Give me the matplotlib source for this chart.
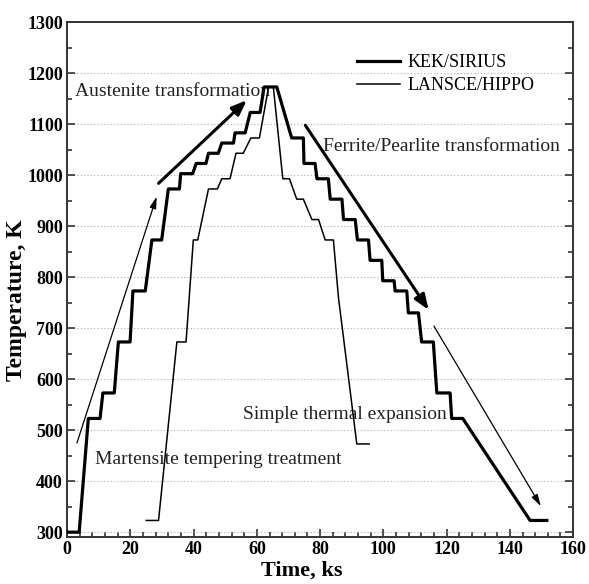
import matplotlib
matplotlib.use("Agg")
import matplotlib.pyplot as plt
from matplotlib.ticker import MultipleLocator

plt.rcParams["font.family"] = ["Liberation Serif", "DejaVu Serif"]

# KEK/SIRIUS heating/cooling schedule (time in ks, temperature in K)
kek_time = [0, 3.8, 6.7, 10.4, 11.3, 14.9, 16.2, 19.9, 20.8, 24.7, 26.8, 29.9,
            32.0, 35.5, 35.9, 39.7, 40.8, 43.9, 44.7, 47.8, 48.9, 52.6, 53.1, 56.3,
            57.9, 61.0, 62.3, 66.3, 71.0, 74.7, 74.9, 78.4, 79.0, 82.6, 83.2, 86.9,
            87.4, 91.1, 91.8, 95.3, 95.8, 99.5, 99.8, 103.4, 103.7, 107.4, 107.9,
            111.1, 112.1, 115.8, 116.9, 121.1, 121.6, 125.1, 146.4, 151.7]
kek_temp = [300, 300, 523, 523, 573, 573, 673, 673, 773, 773, 873, 873,
            973, 973, 1003, 1003, 1023, 1023, 1043, 1043, 1063, 1063, 1083, 1083,
            1123, 1123, 1173, 1173, 1073, 1073, 1023, 1023, 993, 993, 953, 953,
            913, 913, 873, 873, 833, 833, 793, 793, 773, 773, 730,
            730, 673, 673, 573, 573, 523, 523, 323, 323]

# LANSCE/HIPPO schedule
hippo_time = [25.0, 28.9, 34.7, 37.6, 39.9, 41.3, 44.7, 47.5, 48.9, 51.5, 53.4, 55.7,
              58.1, 60.8, 63.7, 65.2, 68.2, 70.3, 72.6, 74.7, 77.4, 79.5, 81.6, 84.2,
              85.8, 91.6, 95.5]
hippo_temp = [323, 323, 673, 673, 873, 873, 973, 973, 993, 993, 1043, 1043,
              1073, 1073, 1173, 1173, 993, 993, 953, 953, 913, 913, 873, 873,
              760, 473, 473]

# arrows: (start, end, thick?)
arrows = [((3.1, 475), (28.3, 958), False),
          ((28.9, 984), (56.8, 1147), True),
          ((75.3, 1098), (114.3, 736), True),
          ((116.0, 704), (149.8, 351), False)]

fig = plt.figure(figsize=(5.89, 5.84), dpi=100)
ax = fig.add_axes([0.114, 0.080, 0.859, 0.882])

ax.plot(kek_time, kek_temp, color="black", lw=2.3, label="KEK/SIRIUS", zorder=3)
ax.plot(hippo_time, hippo_temp, color="black", lw=1.1, label="LANSCE/HIPPO", zorder=3)

for (x0, y0), (x1, y1), thick in arrows:
    if thick:
        props = dict(arrowstyle="-|>,head_length=0.9,head_width=0.35", lw=2.2, color="black",
                     shrinkA=0, shrinkB=0)
    else:
        props = dict(arrowstyle="-|>,head_length=0.7,head_width=0.2", lw=0.9, color="black",
                     shrinkA=0, shrinkB=0)
    ax.annotate("", xy=(x1, y1), xytext=(x0, y0), arrowprops=props, zorder=4)

tkw = dict(fontsize=14, color="#222222", zorder=2)
ax.text(2.5, 1164, "Austenite transformation", ha="left", va="center", **tkw)
ax.text(81.0, 1056, "Ferrite/Pearlite transformation", ha="left", va="center", **tkw)
ax.text(120.1, 531, "Simple thermal expansion", ha="right", va="center", **tkw)
ax.text(8.9, 443, "Martensite tempering treatment", ha="left", va="center", **tkw)

ax.set_xlim(0, 160)
ax.set_ylim(290, 1300)
ax.xaxis.set_major_locator(MultipleLocator(20))
ax.xaxis.set_minor_locator(MultipleLocator(4))
ax.yaxis.set_major_locator(MultipleLocator(100))
ax.yaxis.set_minor_locator(MultipleLocator(50))
ax.tick_params(which="both", direction="in", top=False, right=True, width=1.2, color="#333333")
ax.tick_params(which="major", length=6, labelsize=13, pad=3)
ax.tick_params(which="minor", length=3.5)
for lab in ax.get_xticklabels() + ax.get_yticklabels():
    lab.set_fontweight("bold")
ax.yaxis.grid(True, which="major", linestyle=(0, (1, 2)), color="#aaaaaa", lw=0.8)
ax.set_axisbelow(True)
for s in ax.spines.values():
    s.set_linewidth(1.4)
    s.set_color("#333333")

ax.set_xlabel("Time, ks", fontsize=16, fontweight="bold")
ax.set_ylabel("Temperature, K", fontsize=17, fontweight="bold")
ax.xaxis.set_label_coords(0.464, -0.045)
ax.yaxis.set_label_coords(-0.08, 0.46)

ax.legend(loc="upper left", bbox_to_anchor=(0.573, 0.938), frameon=False, fontsize=13,
          handlelength=2.4, handletextpad=0.4, labelspacing=0.35, borderpad=0,
          borderaxespad=0)

fig.savefig("out.png", dpi=100)
